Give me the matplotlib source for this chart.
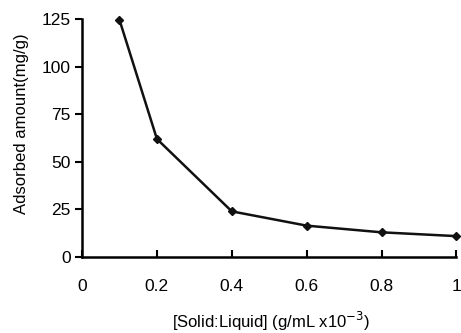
import matplotlib
matplotlib.use("Agg")
import matplotlib.pyplot as plt

ratio = [0.1, 0.2, 0.4, 0.6, 0.8, 1.0]
adsorbed = [124.5, 62, 24, 16.5, 13, 11]
xticks = [0, 0.2, 0.4, 0.6, 0.8, 1]
xticklabels = ["0", "0.2", "0.4", "0.6", "0.8", "1"]
yticks = [0, 25, 50, 75, 100, 125]

plt.rcParams['font.family'] = ['Liberation Sans', 'DejaVu Sans']
fig = plt.figure(figsize=(4.61, 3.33), dpi=100)
ax = fig.add_axes([0.178, 0.228, 0.812, 0.715])
ax.plot(ratio, adsorbed, color='#111111', lw=1.8, marker='D', ms=4, clip_on=False)
ax.set_xlim(0, 1)
ax.set_ylim(0, 125)
ax.set_xticks(xticks)
ax.set_xticklabels(xticklabels)
ax.set_yticks(yticks)
for s in ['top', 'right']:
    ax.spines[s].set_visible(False)
for s in ['left', 'bottom']:
    ax.spines[s].set_linewidth(1.8)
ax.tick_params(axis='x', direction='in', length=5, width=1.5, labelsize=12.5, pad=16)
ax.tick_params(axis='y', direction='out', length=5, width=1.5, labelsize=12.5, pad=3)
ax.set_ylabel("Adsorbed amount(mg/g)", fontsize=12)
ax.yaxis.set_label_coords(-0.142, 0.56)
ax.set_xlabel("[Solid:Liquid] (g/mL x10$^{-3}$)", fontsize=12, va='center')
ax.xaxis.set_label_coords(0.505, -0.27)
fig.savefig("out.png", dpi=100)
